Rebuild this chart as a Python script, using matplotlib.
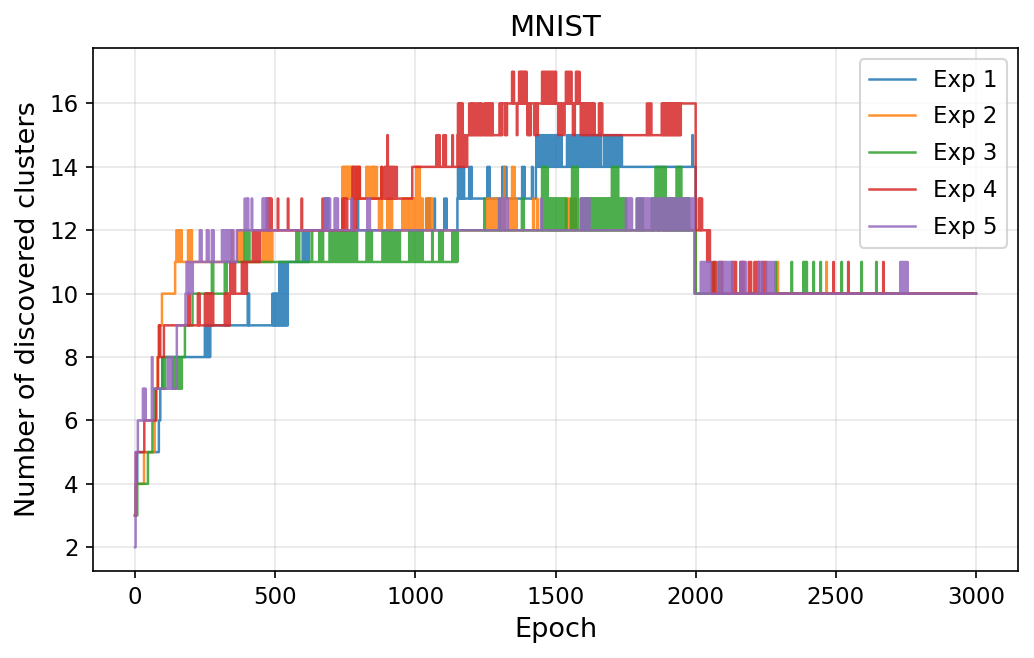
import numpy as np
import matplotlib
matplotlib.use("Agg")
import matplotlib.pyplot as plt

N_EPOCHS = 3000
labels = ["Exp 1", "Exp 2", "Exp 3", "Exp 4", "Exp 5"]
colors = ["#1f77b4", "#ff7f0e", "#2ca02c", "#d62728", "#9467bd"]

# ---- Exp 1 ----
exp1_base = [(0, 3), (2, 4), (8, 5), (85, 6), (90, 7), (97, 8), (268, 9), (545, 11),
             (620, 12), (1150, 13), (1430, 14), (2000, 10)]
exp1_spikes = {
    9: [249, 253, 257, 261, 265],
    10: [402, 405, 490, 495, 500, 505, 510],
    11: [515, 520, 525, 530, 535, 540],
    12: [598, 603, 608, 613],
    13: [676, 683, 687, 794, 1039, 1045, 1050, 1068, 1103, 1110],
    14: [1152, 1158, 1165, 1172, 1192, 1199, 1257, 1263, 1310, 1316, 1323, 1381, 1388, 1416],
    15: [1432, 1436, 1440, 1444, 1449, 1453, 1457, 1462, 1466, 1470, 1475, 1479, 1484, 1488,
         1493, 1497, 1502, 1506, 1511, 1515, 1520,
         1541, 1545, 1550, 1554, 1559, 1563, 1568, 1572, 1577, 1581, 1586, 1590, 1595, 1599,
         1604, 1608, 1613, 1617, 1622, 1627, 1632, 1637, 1641, 1646, 1651, 1656, 1660,
         1673, 1677, 1682, 1686, 1691, 1695, 1700, 1704, 1709, 1713, 1718, 1722, 1727, 1731,
         1735, 1988],
}

# ---- Exp 2 ----
exp2_base = [(0, 3), (3, 4), (32, 5), (70, 6), (76, 7), (80, 8), (86, 9), (96, 10), (143, 11),
             (490, 12), (745, 13), (870, 12), (2000, 10)]
exp2_spikes = {
    11: [2089, 2292, 2466],
    12: [148, 152, 156, 160, 164, 189, 193, 197, 201, 345, 367, 371, 375, 380, 384,
         455, 460, 465, 470, 475, 480, 485],
    13: [872, 900, 908, 915, 954, 959, 964, 969, 974, 979, 984, 989, 994, 999, 1004, 1009,
         1014, 1019, 1025, 1039, 1044, 1050, 1055, 1060, 1256, 1263, 1270, 1280, 1288, 1306,
         1334, 1340, 1359, 1420, 1434, 1537, 1542, 1548, 1560, 1570],
    14: [740, 744, 748, 752, 756, 760, 764, 768, 772, 776, 790, 795, 800, 825, 830, 836,
         843, 847, 851, 855, 861, 879, 1003, 1008, 1014, 1317, 1345, 1352],
}

# ---- Exp 3 ----
exp3_base = [(0, 3), (8, 4), (46, 5), (62, 6), (70, 7), (110, 8), (178, 9), (205, 10),
             (327, 11), (1150, 12), (2000, 10)]
exp3_spikes = {
    7: [135, 139, 142, 153, 157, 161, 165],
    8: [100, 104, 108],
    11: [274, 277, 320, 2064, 2082, 2285, 2342, 2384, 2390, 2395, 2420, 2445, 2520, 2591, 2644],
    12: [391, 396, 401, 406, 576, 580, 584, 630, 658, 663, 669,
         694, 698, 702, 706, 710, 714, 718, 722, 726, 730, 734, 738, 742, 746, 750, 754, 758,
         762, 766, 770, 774, 778, 782, 786, 790, 826, 832, 838, 843,
         883, 888, 893, 898, 903, 908, 913, 918, 923, 928, 933, 938, 943,
         979, 984, 989, 994, 999, 1004, 1009, 1014, 1019, 1024, 1060, 1085, 1090, 1096,
         1132, 1137, 1142, 1147],
    13: [1246, 1299, 1380, 1385, 1452, 1457, 1462, 1467, 1472, 1477, 1482, 1487, 1492, 1497,
         1502, 1507, 1512, 1517, 1522, 1527, 1532, 1537, 1555, 1560, 1590, 1595,
         1601, 1606, 1611, 1616, 1621, 1626, 1630, 1635, 1640, 1645, 1650, 1655, 1660, 1665,
         1670, 1675, 1680, 1685, 1690, 1695, 1700, 1705, 1710, 1715, 1720, 1725, 1730, 1735,
         1740, 1745, 1750, 1790, 1800, 1810,
         1843, 1847, 1851, 1855, 1859, 1863, 1867, 1871, 1875, 1879, 1883, 1887, 1891, 1895,
         1899, 1903, 1907, 1911, 1915, 1919, 1923, 1927, 1931, 1935, 1939, 1943, 1947, 1951,
         1955, 1959, 1963, 1967, 1971, 1975],
    14: [1452, 1458, 1464, 1470, 1559, 1565, 1571, 1577, 1701, 1708, 1715, 1722,
         1857, 1863, 1870, 1877, 1884, 1891, 1932, 1940, 1947],
}

# ---- Exp 4 ----
exp4_base = [(0, 3), (3, 5), (33, 6), (75, 7), (82, 8), (103, 9), (338, 10), (399, 11),
             (445, 12), (790, 13), (989, 14), (1185, 15), (1300, 16), (1640, 15), (1947, 16),
             (2000, 12), (2039, 11), (2057, 10)]
exp4_spikes = {
    9: [85, 88],
    10: [189, 193, 224, 228, 249, 253, 257, 261, 265, 269, 273, 277, 320, 325, 330, 335],
    11: [340, 345, 350, 355, 381, 386, 391, 396, 2064, 2071, 2093, 2130, 2136, 2142,
         2160, 2166, 2171, 2190, 2196, 2210, 2217, 2224, 2238, 2244, 2249, 2491, 2544, 2669],
    12: [420, 425, 430, 435, 440, 2039, 2044, 2049],
    13: [470, 475, 480, 485, 509, 545, 594, 669, 740, 745, 750, 755, 2011, 2016, 2021],
    14: [776, 780, 784, 788, 795, 800, 879, 890, 895, 905, 910, 915, 920, 925, 932],
    15: [900, 1075, 1080, 1085, 1100, 1107, 1132, 1150, 1155, 1160, 1165, 1170, 1175, 1180,
         1303, 1308, 1320, 1325, 1362, 1400, 1405, 1410, 1425, 1430, 1435, 1510, 1520, 1530,
         1562, 1567, 1590, 1596, 1602, 1608, 1614, 1620, 1626, 1632],
    16: [1152, 1157, 1162, 1167, 1192, 1199, 1203, 1210, 1217, 1224, 1230, 1235, 1246, 1252,
         1258, 1264, 1270, 1274, 1655, 1660, 1665, 1826, 1833, 1840, 1879, 1884, 1889, 1894,
         1899, 1904, 1909, 1914, 1919, 1924, 1929, 1934, 1939, 1944],
    17: [1345, 1350, 1370, 1375, 1380, 1385, 1390, 1395, 1452, 1458, 1464, 1470, 1476, 1482,
         1488, 1494, 1500, 1537, 1543, 1549, 1555, 1573, 1578, 1584],
}

# ---- Exp 5 ----
exp5_base = [(0, 2), (2, 5), (10, 6), (64, 7), (149, 9), (180, 10), (206, 11), (363, 12),
             (1995, 10)]
exp5_spikes = {
    7: [28, 32, 36],
    8: [60, 117, 122, 127, 132],
    11: [184, 190, 196, 2018, 2023, 2028, 2035, 2040, 2045, 2050, 2082, 2087, 2093, 2100,
         2105, 2110, 2117, 2125, 2130, 2160, 2166, 2172, 2178, 2224, 2230, 2235, 2253, 2259,
         2265, 2271, 2278, 2730, 2736, 2742, 2748, 2754],
    12: [231, 235, 256, 260, 274, 278, 310, 315, 320, 325, 330, 335, 340, 345, 349],
    13: [391, 399, 402, 416, 455, 460, 465, 470, 676, 680, 685, 690, 694, 712, 717, 722, 772,
         829, 836, 1299, 1307, 1317, 1322, 1327, 1448, 1590, 1595, 1601, 1606, 1612, 1619,
         1751, 1756, 1761, 1766, 1771, 1790, 1795, 1800, 1805, 1810, 1815, 1820, 1826,
         1830, 1836, 1842, 1848, 1854, 1860, 1866, 1872, 1878, 1884, 1890, 1896, 1902, 1908,
         1914, 1920, 1926, 1932, 1938, 1944, 1950, 1956, 1962, 1968, 1974, 1980, 1986, 1990],
}

bases = [exp1_base, exp2_base, exp3_base, exp4_base, exp5_base]
spikes = [exp1_spikes, exp2_spikes, exp3_spikes, exp4_spikes, exp5_spikes]


def build(base, spk):
    y = np.zeros(N_EPOCHS + 1)
    ends = [b[0] for b in base[1:]] + [N_EPOCHS + 1]
    for (start, val), end in zip(base, ends):
        y[start:end] = val
    for level in sorted(spk):
        for e in spk[level]:
            y[e:e + 2] = level
    return y


epochs = np.arange(N_EPOCHS + 1)

fig = plt.figure(figsize=(1034 / 150, 658 / 150), dpi=150)
ax = fig.add_axes([93 / 1034, 1 - 571 / 658, (1018 - 93) / 1034, (571 - 48) / 658])

for base, spk, lab, col in zip(bases, spikes, labels, colors):
    ax.plot(epochs, build(base, spk), drawstyle="steps-post", color=col, lw=1.2,
            alpha=0.85, label=lab)

ax.set_xticks([0, 500, 1000, 1500, 2000, 2500, 3000])
ax.set_yticks([2, 4, 6, 8, 10, 12, 14, 16])
ax.grid(True, alpha=0.3)
ax.tick_params(labelsize=11)
ax.set_xlabel("Epoch", fontsize=13)
ax.set_ylabel("Number of discovered clusters", fontsize=13)
ax.set_title("MNIST", fontsize=14)
ax.legend(loc="upper right", fontsize=11, labelspacing=0.6)

fig.savefig("out.png", dpi=150)
